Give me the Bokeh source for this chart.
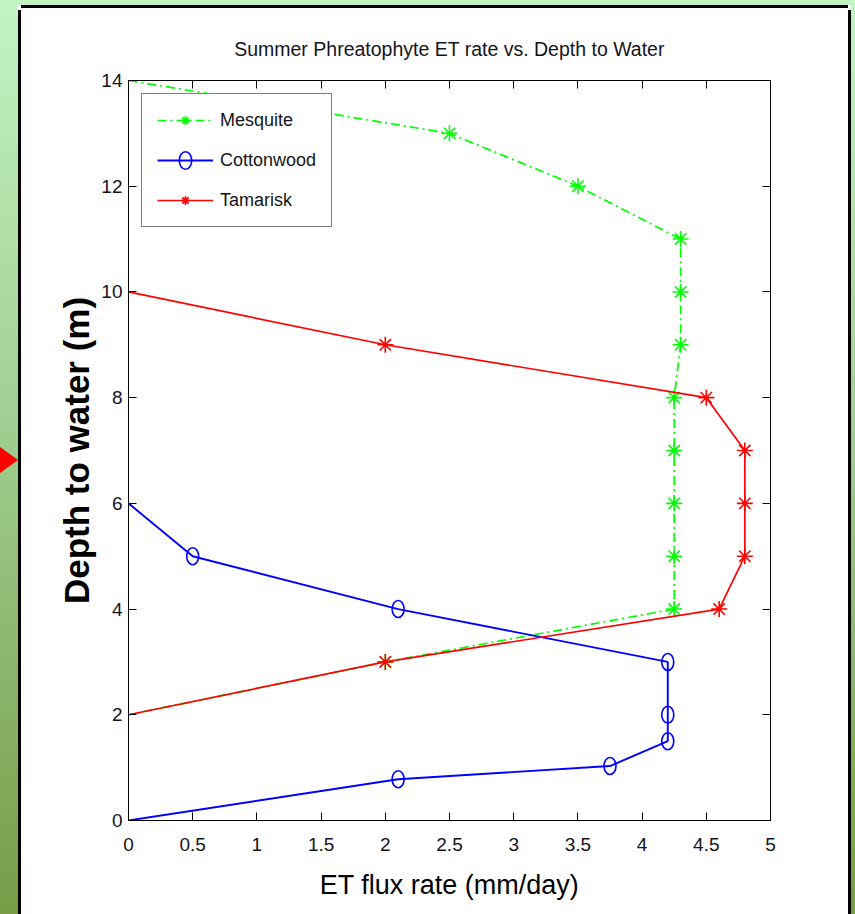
from bokeh.plotting import figure
from bokeh.models import Range1d, LinearAxis, FixedTicker, Div
from bokeh.layouts import row, column
from bokeh.embed import file_html
from bokeh.resources import INLINE

# ---- data ----
mesq_x = [0, 2.5, 3.5, 4.3, 4.3, 4.3, 4.25, 4.25, 4.25, 4.25, 4.25, 2.0, 0]
mesq_y = [14, 13, 12, 11, 10, 9, 8, 7, 6, 5, 4, 3, 2]
mesq_mx = [2.5, 3.5, 4.3, 4.3, 4.3, 4.25, 4.25, 4.25, 4.25, 4.25, 2.0]
mesq_my = [13, 12, 11, 10, 9, 8, 7, 6, 5, 4, 3]

cot_x = [0, 0.5, 2.1, 4.2, 4.2, 4.2, 3.75, 2.1, 0]
cot_y = [6, 5, 4, 3, 2, 1.5, 1.03, 0.78, 0]
cot_mx = [0.5, 2.1, 4.2, 4.2, 4.2, 3.75, 2.1]
cot_my = [5, 4, 3, 2, 1.5, 1.03, 0.78]

tam_x = [0, 2.0, 4.6, 4.8, 4.8, 4.8, 4.5, 2.0, 0]
tam_y = [2, 3, 4, 5, 6, 7, 8, 9, 10]
tam_mx = [2.0, 4.6, 4.8, 4.8, 4.8, 4.5, 2.0]
tam_my = [3, 4, 5, 6, 7, 8, 9]

x_ticks = [0, 0.5, 1, 1.5, 2, 2.5, 3, 3.5, 4, 4.5, 5]
x_tick_labels = ["0", "0.5", "1", "1.5", "2", "2.5", "3", "3.5", "4", "4.5", "5"]
y_ticks = [0, 2, 4, 6, 8, 10, 12, 14]
y_tick_labels = ["0", "2", "4", "6", "8", "10", "12", "14"]

TITLE = "Summer Phreatophyte ET rate vs. Depth to Water"
XLABEL = "ET flux rate (mm/day)"
YLABEL = "Depth to water (m)"

SANS = "Liberation Sans, Arial, sans-serif"
TXT = "#141420"

FW, FH = 827, 906
p = figure(width=FW, height=FH, x_range=Range1d(0, 5), y_range=Range1d(0, 14),
           output_backend="svg", toolbar_location=None,
           min_border_left=107, min_border_right=78,
           min_border_top=72, min_border_bottom=94,
           x_axis_label=XLABEL, y_axis_label=YLABEL, title=TITLE)
p.background_fill_color = "white"
p.border_fill_color = "white"
p.outline_line_color = "black"
p.outline_line_width = 1
p.xgrid.visible = False
p.ygrid.visible = False

p.title.align = "center"
p.title.text_font = SANS
p.title.text_font_size = "19.5px"
p.title.text_font_style = "normal"
p.title.text_color = TXT
p.title.standoff = 41

def style_axis(ax, ticks, labels, show_labels=True):
    ax.ticker = FixedTicker(ticks=ticks)
    if show_labels:
        ax.major_label_overrides = {t: l for t, l in zip(ticks, labels)}
    else:
        ax.major_label_overrides = {t: "" for t in ticks}
        ax.major_label_standoff = 0
    ax.major_tick_in = 8
    ax.major_tick_out = 0
    ax.minor_tick_in = 0
    ax.minor_tick_out = 0
    ax.axis_line_color = "black"
    ax.axis_line_width = 1
    ax.major_tick_line_width = 1
    ax.major_label_text_font = SANS
    ax.major_label_text_color = TXT
    ax.major_label_text_font_size = "19px"

style_axis(p.xaxis[0], x_ticks, x_tick_labels)
style_axis(p.yaxis[0], y_ticks, y_tick_labels)
p.xaxis[0].major_label_standoff = 17
p.yaxis[0].major_label_standoff = 6

p.xaxis[0].axis_label_text_font = SANS
p.xaxis[0].axis_label_text_font_size = "27px"
p.xaxis[0].axis_label_text_font_style = "normal"
p.xaxis[0].axis_label_text_color = "black"
p.xaxis[0].axis_label_standoff = 16

p.yaxis[0].axis_label_text_font = SANS
p.yaxis[0].axis_label_text_font_size = "35px"
p.yaxis[0].axis_label_text_font_style = "bold"
p.yaxis[0].axis_label_text_color = "black"
p.yaxis[0].axis_label_standoff = 2

top_ax = LinearAxis()
style_axis(top_ax, x_ticks, x_tick_labels, show_labels=False)
p.add_layout(top_ax, "above")
right_ax = LinearAxis()
style_axis(right_ax, y_ticks, y_tick_labels, show_labels=False)
p.add_layout(right_ax, "right")

GREEN, BLUE, RED = "#00ff00", "#0000ff", "#ff0000"

# Mesquite
p.line(mesq_x, mesq_y, line_color=GREEN, line_width=1.7, line_dash="9 4 2 4",
       legend_label="Mesquite")
p.scatter(mesq_mx, mesq_my, marker="asterisk", size=16, line_color=GREEN,
          line_width=1.6, legend_label="Mesquite")

# Cottonwood
p.line(cot_x, cot_y, line_color=BLUE, line_width=1.9, legend_label="Cottonwood")
p.ellipse(cot_mx, cot_my, width=12, height=17, width_units="screen",
          height_units="screen", fill_color=None, line_color=BLUE,
          line_width=1.6, legend_label="Cottonwood")

# Tamarisk
p.line(tam_x, tam_y, line_color=RED, line_width=1.7, legend_label="Tamarisk")
p.scatter(tam_mx, tam_my, marker="asterisk", size=16, line_color=RED,
          line_width=1.6, legend_label="Tamarisk")

lg = p.legend[0]
lg.location = "top_left"
lg.margin = 13
lg.padding = 15
lg.spacing = 18
lg.glyph_width = 56
lg.glyph_height = 22
lg.label_height = 22
lg.label_standoff = 7
lg.label_text_font = SANS
lg.label_text_font_size = "18px"
lg.label_text_color = TXT
lg.border_line_color = "black"
lg.border_line_width = 1.5
lg.background_fill_color = "white"
lg.background_fill_alpha = 1

GRAD = ("linear-gradient(to bottom, #c3f3c3 0%, #b2e2aa 22%, #a0d094 45%, "
        "#8db870 70%, #7ca452 92%, #789c48 100%)")
TOTAL_H = 914

left_strip = Div(width=18, height=TOTAL_H, margin=0, styles={"background": GRAD},
                 text='<div style="margin-top:447px;width:0;height:0;'
                      'border-top:13px solid transparent;border-bottom:13px solid transparent;'
                      'border-left:18px solid #ff0000;"></div>')
black_l = Div(width=3, height=TOTAL_H - 5, margin=(5, 0, 0, 0), styles={"background": "black"})
green_top = Div(width=FW, height=5, margin=0, styles={"background": "#c3f3c3"})
black_top = Div(width=FW, height=3, margin=0, styles={"background": "black"})
black_r = Div(width=3, height=TOTAL_H - 5, margin=(5, 0, 0, 0), styles={"background": "black"})
right_strip = Div(width=4, height=TOTAL_H, margin=0, styles={"background": GRAD})

page = row(left_strip,
           column(Div(width=3, height=5, margin=0, styles={"background": "#c3f3c3"}),
                  black_l, spacing=0),
           column(green_top, black_top, p, spacing=0),
           column(Div(width=3, height=5, margin=0, styles={"background": "#c3f3c3"}),
                  black_r, spacing=0),
           right_strip,
           spacing=0)

open("out.html", "w").write(file_html(page, INLINE))
